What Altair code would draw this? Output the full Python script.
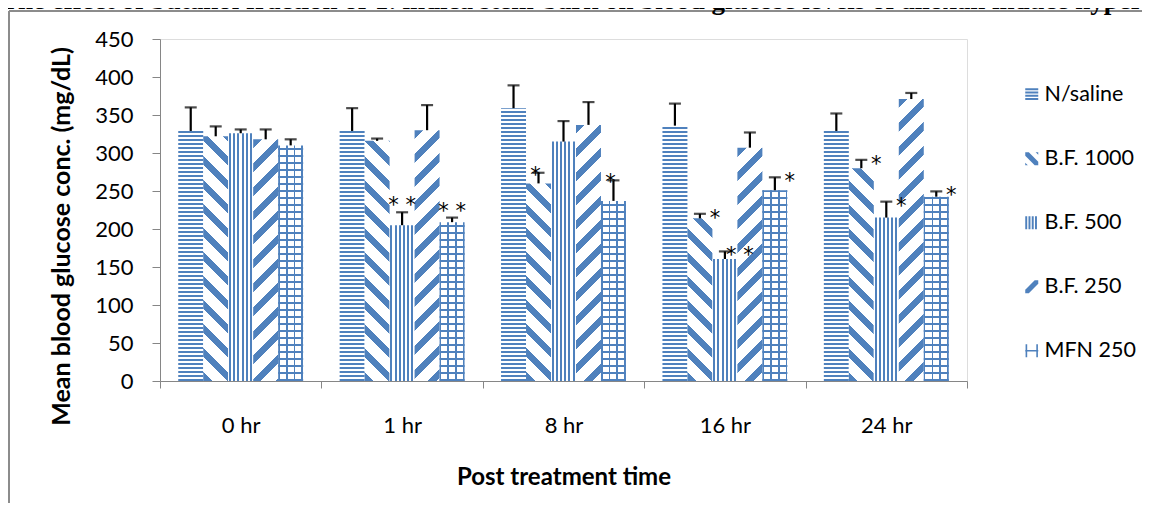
import altair as alt
import pandas as pd

# ---------------- data ----------------
times = ["0 hr", "1 hr", "8 hr", "16 hr", "24 hr"]
series = ["N/saline", "B.F. 1000", "B.F. 500", "B.F. 250", "MFN 250"]

mean_nsaline = [329, 329, 359, 336, 329]
mean_bf1000 = [322, 316, 260, 214, 280]
mean_bf500 = [326, 205, 315, 160.5, 215]
mean_bf250 = [318, 330, 337, 307, 371]
mean_mfn250 = [310, 209, 237, 251, 242.5]

err_nsaline = [31, 30, 30, 29, 23]
err_bf1000 = [13, 3, 14, 6, 11]
err_bf500 = [5, 17, 27, 10, 21]
err_bf250 = [13, 33, 30, 20, 8]
err_mfn250 = [8, 6, 27, 17, 7]

# significance marks: (time, series, label)
stars_above = [("1 hr", "B.F. 500", "* *"), ("1 hr", "MFN 250", "* *")]
stars_on = [("8 hr", "B.F. 1000", "*"), ("8 hr", "MFN 250", "*")]
stars_right = [("16 hr", "B.F. 1000", "*"), ("16 hr", "B.F. 500", "* *"),
               ("16 hr", "MFN 250", "*"), ("24 hr", "B.F. 1000", "*"),
               ("24 hr", "B.F. 500", "*"), ("24 hr", "MFN 250", "*")]

y_ticks = [0, 50, 100, 150, 200, 250, 300, 350, 400, 450]

title_text = ("The effect of butanol fraction of T. indica stem-bark on blood "
              "glucose levels of alloxan induce hypergl")
y_title = "Mean blood glucose conc. (mg/dL)"
x_title = "Post treatment time"

# ---------------- table ----------------
means = [mean_nsaline, mean_bf1000, mean_bf500, mean_bf250, mean_mfn250]
errs = [err_nsaline, err_bf1000, err_bf500, err_bf250, err_mfn250]
rows = []
for s, mlist, elist in zip(series, means, errs):
    for t, m, e in zip(times, mlist, elist):
        rows.append({"time": t, "series": s, "value": m, "err": e, "top": m + e})
df = pd.DataFrame(rows)
top_of = {(r["time"], r["series"]): r["top"] for r in rows}


def star_df(lst):
    return pd.DataFrame([{"time": t, "series": s, "label": lab, "top": top_of[(t, s)]}
                         for t, s, lab in lst])


# ---------------- layout ----------------
W, H, YMAX = 807, 342, 450
K = H / YMAX
PAD_OUT = 0.73
BAR_W = W / len(times) / (len(series) + 2 * PAD_OUT)
BLUE = "#4F81BD"
WHITE = "#FFFFFF"
CLEAR = "rgba(255,255,255,0)"
FONT = "Lato"


def stops(period, on, L, start=0.0, c_on=BLUE, c_off=WHITE):
    out = []
    if start > 0:
        out += [(0.0, c_off), (start / L, c_off)]
    x = start
    while x < L - 1e-9:
        e = min(x + on, L)
        n = min(x + period, L)
        out += [(x / L, c_on), (e / L, c_on), (e / L, c_off), (n / L, c_off)]
        x += period
    return [(round(o, 5), c) for o, c in out]


def stops_js(st):
    return "[" + ",".join("{offset:%.5f,color:'%s'}" % (o, c) for o, c in st) + "]"


def stops_vl(st):
    return [{"offset": o, "color": c} for o, c in st]


h = "(datum.value*%.6f)" % K
w2 = "%.4f" % (BAR_W ** 2)

# horizontal stripes (N/saline)
LH = 400.0
expr_h = ("{gradient:'linear',x1:0,y1:1,x2:0,y2:1-%.1f/%s,stops:%s}"
          % (LH, h, stops_js(stops(4.0, 2.3, LH))))

# diagonal stripes
LD = 340.0
st_d = stops_js(stops(24.0, 9.0, LD))
gx = "%.4f/(%s+%s*%s)" % (BAR_W * LD, w2, h, h)
gy = "%.4f*%s/(%s+%s*%s)" % (LD, h, w2, h, h)
expr_back = "{gradient:'linear',x1:0,y1:1,x2:%s,y2:1-%s,stops:%s}" % (gx, gy, st_d)
expr_fwd = "{gradient:'linear',x1:0,y1:0,x2:%s,y2:%s,stops:%s}" % (gx, gy, st_d)

# grid horizontal lines (transparent between)
LG = 400.0
expr_gridh = ("{gradient:'linear',x1:0,y1:1,x2:0,y2:1-%.1f/%s,stops:%s}"
              % (LG, h, stops_js(stops(7.0, 1.7, LG, c_off=CLEAR))))

# vertical stripes, constant
grad_vert = {"gradient": "linear", "x1": 0, "y1": 0, "x2": 1, "y2": 0,
             "stops": stops_vl(stops(BAR_W / 6, 2.0, BAR_W, start=0.8))}
grad_gridv = {"gradient": "linear", "x1": 0, "y1": 0, "x2": 1, "y2": 0,
              "stops": stops_vl(stops((BAR_W - 1.7) / 3, 1.7, BAR_W))}

# ---------------- scales / axes ----------------
x_axis = alt.Axis(title=x_title, labelAngle=0, tickBand="extent", tickExtra=True,
                  domainColor="#868686", tickColor="#868686", tickSize=7,
                  labelFont=FONT, labelFontSize=22, labelColor="black",
                  labelPadding=27, titleFont=FONT, titleFontSize=24,
                  titleFontWeight="bold", titleColor="black",
                  titleBaseline="alphabetic", titleY=103)
x_scale = alt.Scale(domain=times, paddingInner=0, paddingOuter=0)
xo_scale = alt.Scale(domain=series, paddingInner=0, paddingOuter=PAD_OUT)
y_scale = alt.Scale(domain=[0, YMAX], nice=False)
y_axis = alt.Axis(title=y_title, values=y_ticks, grid=False, labelOverlap=False,
                  domainColor="#868686", tickColor="#868686", tickSize=8,
                  labelFont=FONT, labelFontSize=22, labelColor="black",
                  labelPadding=19, titleFont=FONT, titleFontSize=25,
                  titleFontWeight="bold", titleColor="black",
                  titleAngle=-90, titleBaseline="alphabetic",
                  titleX=-91, titleY=197, titleAlign="center")


def X():
    return alt.X("time:N", sort=times, scale=x_scale, axis=x_axis)


def XO():
    return alt.XOffset("series:N", sort=series, scale=xo_scale)


def Y(field):
    return alt.Y(field, scale=y_scale, axis=y_axis)


base = alt.Chart(df).encode(x=X(), xOffset=XO(), y=Y("value:Q"))


def pattern_layer(name, expr=None, value=None):
    c = base.transform_filter(alt.datum.series == name)
    if expr is not None:
        return c.transform_calculate(grad=expr).mark_bar().encode(
            fill=alt.Fill("grad:N", scale=None))
    return c.mark_bar(fill=value)


bars = [
    pattern_layer("N/saline", expr=expr_h),
    pattern_layer("B.F. 1000", expr=expr_back),
    pattern_layer("B.F. 500", value=grad_vert),
    pattern_layer("B.F. 250", expr=expr_fwd),
    pattern_layer("MFN 250", value=grad_gridv),
    pattern_layer("MFN 250", expr=expr_gridh),
]

err_rule = base.mark_rule(color="black", strokeWidth=2.2).encode(y2="top:Q")
err_cap = base.mark_tick(color="black", thickness=2.2, size=12, orient="horizontal").encode(
    y=Y("top:Q"))


def star_layer(lst, dx, dy):
    return alt.Chart(star_df(lst)).mark_text(
        font="DejaVu Sans", fontSize=21, color="black", align="center", baseline="alphabetic",
        dx=dx, dy=dy).encode(x=X(), xOffset=XO(), y=Y("top:Q"), text="label:N")


stars = [star_layer(stars_above, 0, 0), star_layer(stars_on, -3, 9),
         star_layer(stars_right, 15, 11)]

# legend (custom pattern symbols)
legend_paths = [
    "M-1,-1H1V-0.7H-1Z M-1,-0.5H1V-0.2H-1Z M-1,0H1V0.3H-1Z M-1,0.5H1V0.8H-1Z",
    "M-1,-1L-0.45,-1L1,0.45L1,1L0.45,1L-1,-0.45Z M0.6,-1L1,-1L1,-0.6Z M-1,0.6L-1,1L-0.6,1Z",
    "M-1,-1H-0.7V1H-1Z M-0.5,-1H-0.2V1H-0.5Z M0,-1H0.3V1H0Z M0.5,-1H0.8V1H0.5Z",
    "M1,-1L0.45,-1L-1,0.45L-1,1L-0.45,1L1,-0.45Z",
    "M-0.95,-1H-0.7V1H-0.95Z M0.7,-1H0.95V1H0.7Z M-1,-0.13H1V0.13H-1Z",
]
legend_layer = alt.Chart(df).transform_filter("false").mark_point(
    filled=True, opacity=1, color=BLUE).encode(
    shape=alt.Shape("series:N", sort=series,
                    scale=alt.Scale(domain=series, range=legend_paths),
                    legend=alt.Legend(orient="none", legendX=861, legendY=45, title=None,
                                      symbolSize=169, symbolStrokeWidth=0, symbolOpacity=1,
                                      symbolFillColor=BLUE,
                                      labelFont=FONT, labelFontSize=21.5, labelColor="black",
                                      labelOffset=2, rowPadding=41, padding=0)))

# frame and (cropped) title
one = pd.DataFrame({"t": [title_text]})
frame_left = alt.Chart(one).mark_rule(color="#8C8C8C", strokeWidth=2).encode(
    x=alt.value(-151), y=alt.value(-28), y2=alt.value(700))
frame_top = alt.Chart(one).mark_rule(color="#8C8C8C", strokeWidth=2).encode(
    x=alt.value(-151), x2=alt.value(1300), y=alt.value(-28))
title_layer = alt.Chart(one).mark_text(
    font="Liberation Serif", fontSize=27, fontWeight="bold", color="black",
    align="left", baseline="alphabetic").encode(
    x=alt.value(-160), y=alt.value(-30), text="t:N")

chart = alt.layer(
    *bars, err_rule, err_cap, *stars, legend_layer, frame_left, frame_top, title_layer
).properties(
    width=W, height=H,
    padding={"left": 152, "top": 31, "right": 175, "bottom": 122},
    autosize=alt.AutoSizeParams(type="none"),
).configure_view(stroke=None).configure(font=FONT)

chart.save("out.html", embed_options={"renderer": "svg", "actions": False})
